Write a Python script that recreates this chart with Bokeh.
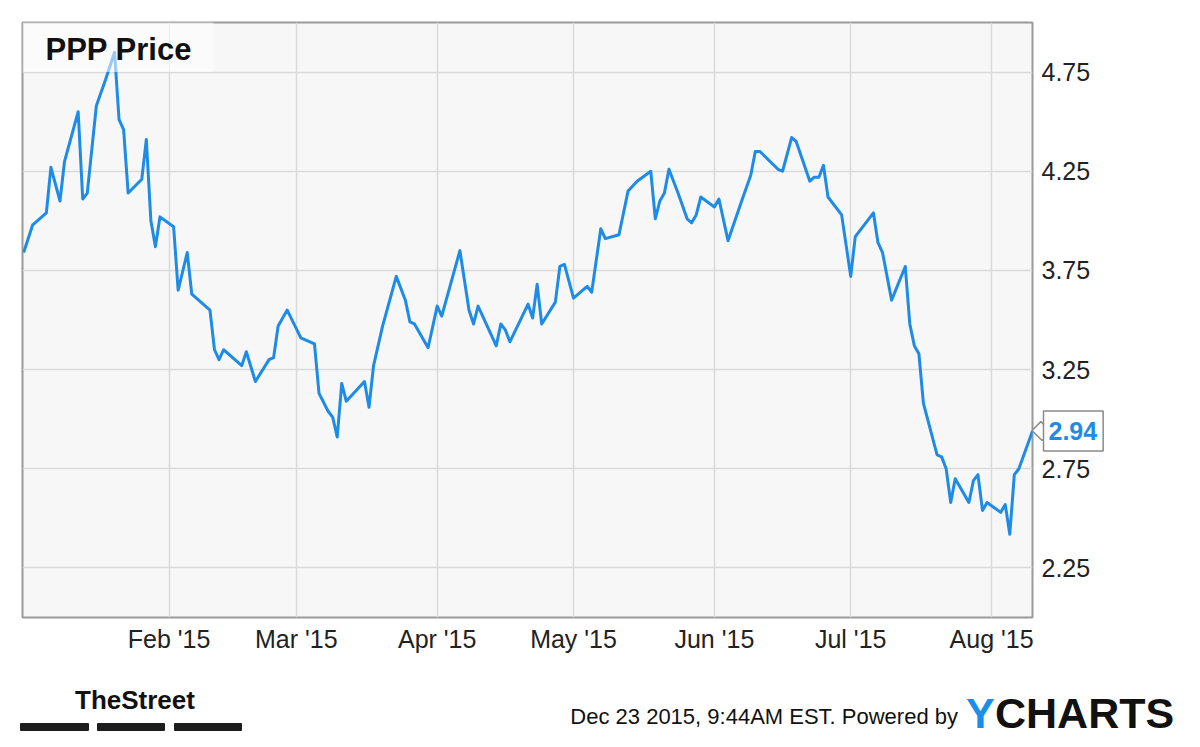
import math
import pandas as pd
from bokeh.plotting import figure
from bokeh.layouts import column
from bokeh.models import (Range1d, FixedTicker, DatetimeTickFormatter, NumeralTickFormatter,
                          Label, BoxAnnotation, Div)
from bokeh.embed import file_html
from bokeh.resources import INLINE

# ---------------- data ----------------
dates = [
    "2014-12-31", "2015-01-02", "2015-01-05", "2015-01-06", "2015-01-08", "2015-01-09", "2015-01-12", "2015-01-13", "2015-01-14", "2015-01-16",
    "2015-01-18", "2015-01-20", "2015-01-21", "2015-01-22", "2015-01-23", "2015-01-26", "2015-01-27", "2015-01-28", "2015-01-29", "2015-01-30",
    "2015-02-02", "2015-02-03", "2015-02-05", "2015-02-06", "2015-02-10", "2015-02-11", "2015-02-12", "2015-02-13", "2015-02-17", "2015-02-18",
    "2015-02-20", "2015-02-23", "2015-02-24", "2015-02-25", "2015-02-27", "2015-03-02", "2015-03-03", "2015-03-05", "2015-03-06", "2015-03-08",
    "2015-03-09", "2015-03-10", "2015-03-11", "2015-03-12", "2015-03-16", "2015-03-17", "2015-03-18", "2015-03-20", "2015-03-23", "2015-03-25",
    "2015-03-26", "2015-03-27", "2015-03-30", "2015-04-01", "2015-04-02", "2015-04-06", "2015-04-08", "2015-04-09", "2015-04-10", "2015-04-14",
    "2015-04-15", "2015-04-16", "2015-04-17", "2015-04-21", "2015-04-22", "2015-04-23", "2015-04-24", "2015-04-27", "2015-04-28", "2015-04-29",
    "2015-05-01", "2015-05-04", "2015-05-05", "2015-05-07", "2015-05-08", "2015-05-11", "2015-05-13", "2015-05-15", "2015-05-18", "2015-05-19",
    "2015-05-20", "2015-05-21", "2015-05-22", "2015-05-24", "2015-05-26", "2015-05-27", "2015-05-28", "2015-05-29", "2015-06-01", "2015-06-02",
    "2015-06-04", "2015-06-07", "2015-06-09", "2015-06-10", "2015-06-11", "2015-06-15", "2015-06-16", "2015-06-18", "2015-06-19", "2015-06-22",
    "2015-06-23", "2015-06-24", "2015-06-25", "2015-06-26", "2015-06-29", "2015-07-01", "2015-07-02", "2015-07-06", "2015-07-07", "2015-07-08",
    "2015-07-10", "2015-07-13", "2015-07-14", "2015-07-15", "2015-07-16", "2015-07-17", "2015-07-20", "2015-07-21", "2015-07-22", "2015-07-23",
    "2015-07-24", "2015-07-27", "2015-07-28", "2015-07-29", "2015-07-30", "2015-07-31", "2015-08-03", "2015-08-04", "2015-08-05", "2015-08-06",
    "2015-08-07", "2015-08-10",
]
prices = [
    3.84, 3.98, 4.04, 4.27, 4.10, 4.30, 4.55, 4.11, 4.14, 4.58,
    4.71, 4.85, 4.51, 4.46, 4.14, 4.21, 4.41, 4.00, 3.87, 4.02,
    3.97, 3.65, 3.84, 3.63, 3.55, 3.35, 3.30, 3.35, 3.27, 3.34,
    3.19, 3.30, 3.31, 3.47, 3.55, 3.41, 3.40, 3.38, 3.13, 3.04,
    3.01, 2.91, 3.18, 3.09, 3.19, 3.06, 3.27, 3.47, 3.72, 3.60,
    3.49, 3.48, 3.36, 3.57, 3.52, 3.85, 3.55, 3.48, 3.57, 3.37,
    3.48, 3.45, 3.39, 3.58, 3.51, 3.68, 3.48, 3.59, 3.77, 3.78,
    3.61, 3.67, 3.64, 3.96, 3.91, 3.93, 4.15, 4.20, 4.25, 4.01,
    4.10, 4.14, 4.26, 4.14, 4.01, 3.99, 4.03, 4.12, 4.07, 4.11,
    3.90, 4.10, 4.23, 4.35, 4.35, 4.26, 4.25, 4.42, 4.40, 4.20,
    4.22, 4.22, 4.28, 4.12, 4.03, 3.72, 3.92, 4.04, 3.89, 3.84,
    3.60, 3.77, 3.48, 3.37, 3.33, 3.08, 2.82, 2.81, 2.75, 2.58,
    2.70, 2.58, 2.69, 2.72, 2.54, 2.58, 2.53, 2.57, 2.42, 2.72,
    2.75, 2.94,
]
month_ticks = ["2015-02-01", "2015-03-01", "2015-04-01", "2015-05-01",
               "2015-06-01", "2015-07-01", "2015-08-01"]
price_ticks = [2.25, 2.75, 3.25, 3.75, 4.25, 4.75]
title_text = "PPP Price"
footer_text = "Dec 23 2015, 9:44AM EST.  Powered by"
street_text = "TheStreet"
logo_parts = ["Y", "CHARTS"]

# ---------------- main figure ----------------
BLUE = "#1e8be6"
FONT = "Liberation Sans"
W, H1, H2 = 1184, 662, 69
LEFT, TOP = 22, 22
FRAME_W, FRAME_H = 1010, 595

x = pd.to_datetime(dates)
tick_ms = [pd.Timestamp(d).value // 10**6 for d in month_ticks]
x_start = pd.Timestamp("2014-12-30 18:00")
y_lo, y_hi = 2.0, 5.0

p = figure(width=W, height=H1, x_axis_type="datetime", y_axis_location="right",
           x_range=Range1d(x_start, x[-1]), y_range=Range1d(y_lo, y_hi),
           output_backend="svg", toolbar_location=None,
           min_border_left=LEFT, min_border_top=TOP,
           min_border_right=W - LEFT - FRAME_W, min_border_bottom=H1 - TOP - FRAME_H)

p.background_fill_color = "#f7f7f7"
p.border_fill_color = "white"
p.outline_line_color = "#9a9a9a"
p.outline_line_width = 2

xt = FixedTicker(ticks=tick_ms)
yt = FixedTicker(ticks=price_ticks)
p.xaxis.ticker = xt
p.xgrid.ticker = xt
p.yaxis.ticker = yt
p.ygrid.ticker = yt
fmt = "%b '%y"
p.xaxis.formatter = DatetimeTickFormatter(days=fmt, months=fmt, years=fmt, hours=fmt)
p.yaxis.formatter = NumeralTickFormatter(format="0.00")

for ax in (p.xaxis[0], p.yaxis[0]):
    ax.axis_line_color = None
    ax.major_tick_line_color = None
    ax.minor_tick_line_color = None
    ax.major_tick_out = 0
    ax.major_tick_in = 0
    ax.minor_tick_out = 0
    ax.major_label_text_font = FONT
    ax.major_label_text_font_size = "25px"
    ax.major_label_text_color = "#222222"
p.xaxis.major_label_standoff = 7
p.yaxis.major_label_standoff = 9

p.grid.grid_line_color = "#dadada"
p.grid.grid_line_width = 1.5

p.line(x, prices, line_color=BLUE, line_width=3, line_join="round")

# title box (inside the frame)
p.add_layout(BoxAnnotation(left=0, right=191, bottom=545.5, top=596,
                           left_units="screen", right_units="screen",
                           bottom_units="screen", top_units="screen",
                           fill_color="white", fill_alpha=0.55, line_color=None))
p.add_layout(Label(x=23, y=568, x_units="screen", y_units="screen", text=title_text,
                   text_font=FONT, text_font_size="31px", text_baseline="middle",
                   text_font_style="bold", text_color="#111111"))

# last value call-out, in the right-hand side panel (not clipped to the frame)
last_ms = x[-1].value // 10**6
yl = prices[-1]
p.add_layout(Label(x=last_ms, y=yl, x_offset=9, text=" ", text_font_size="2px",
                   text_align="center", text_baseline="middle", angle=math.pi / 4,
                   background_fill_color="white", border_line_color="#8a8a8a",
                   border_line_width=1.5, padding=6), "right")
p.add_layout(Label(x=last_ms, y=yl, x_offset=11, text=f"{yl:.2f}",
                   text_baseline="middle", text_align="left",
                   text_font=FONT, text_font_size="25px",
                   text_font_style="bold", text_color=BLUE,
                   background_fill_color="white", border_line_color="#8a8a8a",
                   border_line_width=1.5,
                   padding=dict(left=5, right=6, top=11, bottom=11)), "right")

# ---------------- footer strip (HTML) ----------------
span = ("position:absolute;white-space:nowrap;line-height:1;margin:0;padding:0;"
        "font-family:'Liberation Sans',Arial,sans-serif;")
bar = "position:absolute;top:61px;height:8px;background:#1c1c1c;border-radius:1px;"
footer_html = (
    f'<div style="position:relative;width:{W}px;height:{H2}px;overflow:visible;">'
    f'<span style="{span}left:75px;top:25px;font-size:26px;font-weight:bold;color:#111;">{street_text}</span>'
    f'<div style="{bar}left:20px;width:69px;"></div>'
    f'<div style="{bar}left:97px;width:68px;"></div>'
    f'<div style="{bar}left:174px;width:68px;"></div>'
    f'<span style="{span}right:{W - 958}px;top:44px;font-size:22px;color:#111;">{footer_text}</span>'
    f'<span style="{span}left:966px;top:30px;font-size:43px;font-weight:bold;color:#1b8ee8;">{logo_parts[0]}</span>'
    f'<span style="{span}left:995px;top:30px;font-size:43px;font-weight:bold;color:#111;">{logo_parts[1]}</span>'
    '</div>'
)
footer = Div(text=footer_html, width=W, height=H2, margin=0)

layout = column(p, footer, spacing=0)
open("out.html", "w").write(file_html(layout, INLINE))
